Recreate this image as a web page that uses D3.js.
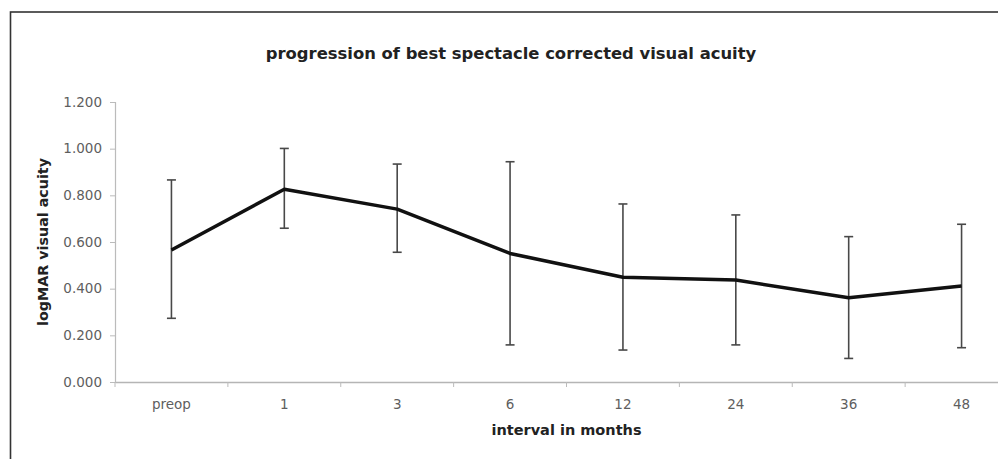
<!DOCTYPE html>
<html>
<head>
<meta charset="utf-8">
<script src="https://cdn.jsdelivr.net/npm/d3@7"></script>
<style>
  html, body { margin: 0; padding: 0; background: #fff; }
  svg { display: block; }
</style>
</head>
<body>
<svg id="chart" width="998" height="459"></svg>
<script>
const categories = ["preop", "1", "3", "6", "12", "24", "36", "48"];
const meanValues = [0.566, 0.826, 0.741, 0.551, 0.449, 0.437, 0.361, 0.411];
const upperValues = [0.866, 1.001, 0.934, 0.944, 0.763, 0.716, 0.623, 0.676];
const lowerValues = [0.273, 0.659, 0.556, 0.159, 0.137, 0.159, 0.101, 0.147];
const yTicks = [0, 0.2, 0.4, 0.6, 0.8, 1.0, 1.2];

const titleText = "progression of best spectacle corrected visual acuity";
const xTitle = "interval in months";
const yTitle = "logMAR visual acuity";

(function () {
const svg = d3.select("#chart");
const font = "'DejaVu Sans', Verdana, sans-serif";

// outer frame (cropped at right/bottom)
svg.append("rect")
  .attr("x", 10.5).attr("y", 12)
  .attr("width", 1200).attr("height", 600)
  .attr("fill", "none").attr("stroke", "#333").attr("stroke-width", 1.6);

const pl = 115, pr = 1018, pt = 102, pb = 382;

const x = d3.scaleBand().domain(categories).range([pl, pr]).padding(0);
const y = d3.scaleLinear().domain([0, 1.2]).range([pb, pt]);

// title
svg.append("text")
  .attr("x", 511).attr("y", 59)
  .attr("text-anchor", "middle")
  .attr("font-family", font).attr("font-weight", "bold")
  .attr("font-size", 16.4).attr("fill", "#222")
  .text(titleText);

// y axis
const yAxis = svg.append("g")
  .attr("transform", `translate(${pl},0)`)
  .call(d3.axisLeft(y).tickValues(yTicks).tickFormat(d3.format(".3f")).tickSize(5).tickPadding(8));
yAxis.select(".domain").attr("stroke", "#bbb").attr("stroke-width", 1.2);
yAxis.selectAll(".tick line").attr("stroke", "#bbb");
yAxis.selectAll(".tick text")
  .attr("font-family", font).attr("font-size", 13.5).attr("fill", "#5e5e5e");

// x axis
const xAxis = svg.append("g")
  .attr("transform", `translate(0,${pb})`)
  .call(d3.axisBottom(x).tickSize(0).tickPadding(17));
xAxis.select(".domain").attr("stroke", "#b5b5b5").attr("stroke-width", 1.4);
xAxis.selectAll(".tick text")
  .attr("font-family", font).attr("font-size", 13.5).attr("fill", "#5e5e5e");
// boundary ticks
const boundaries = categories.map(c => x(c)).concat([x.range()[1]]);
xAxis.selectAll(".bt").data(boundaries).enter().append("line")
  .attr("x1", d => d).attr("x2", d => d)
  .attr("y1", 0).attr("y2", 5)
  .attr("stroke", "#bbb");

// axis titles
svg.append("text")
  .attr("x", (pl + pr) / 2).attr("y", 435)
  .attr("text-anchor", "middle")
  .attr("font-family", font).attr("font-weight", "bold")
  .attr("font-size", 14.5).attr("fill", "#222")
  .text(xTitle);

svg.append("text")
  .attr("transform", `translate(48,${(pt + pb) / 2}) rotate(-90)`)
  .attr("text-anchor", "middle")
  .attr("font-family", font).attr("font-weight", "bold")
  .attr("font-size", 14.3).attr("fill", "#222")
  .text(yTitle);

// data
const data = categories.map((c, i) => ({ c, m: meanValues[i], hi: upperValues[i], lo: lowerValues[i] }));
const cx = d => x(d.c) + x.bandwidth() / 2;

// error bars
const eb = svg.append("g").attr("stroke", "#484848").attr("stroke-width", 1.6);
eb.selectAll(".v").data(data).enter().append("line")
  .attr("x1", cx).attr("x2", cx)
  .attr("y1", d => y(d.hi)).attr("y2", d => y(d.lo));
eb.selectAll(".t").data(data).enter().append("line")
  .attr("x1", d => cx(d) - 4.5).attr("x2", d => cx(d) + 4.5)
  .attr("y1", d => y(d.hi)).attr("y2", d => y(d.hi));
eb.selectAll(".b").data(data).enter().append("line")
  .attr("x1", d => cx(d) - 4.5).attr("x2", d => cx(d) + 4.5)
  .attr("y1", d => y(d.lo)).attr("y2", d => y(d.lo));

// mean line
svg.append("path")
  .datum(data)
  .attr("fill", "none").attr("stroke", "#111").attr("stroke-width", 3.5)
  .attr("stroke-linejoin", "round")
  .attr("d", d3.line().x(cx).y(d => y(d.m)));
})();
</script>
</body>
</html>
